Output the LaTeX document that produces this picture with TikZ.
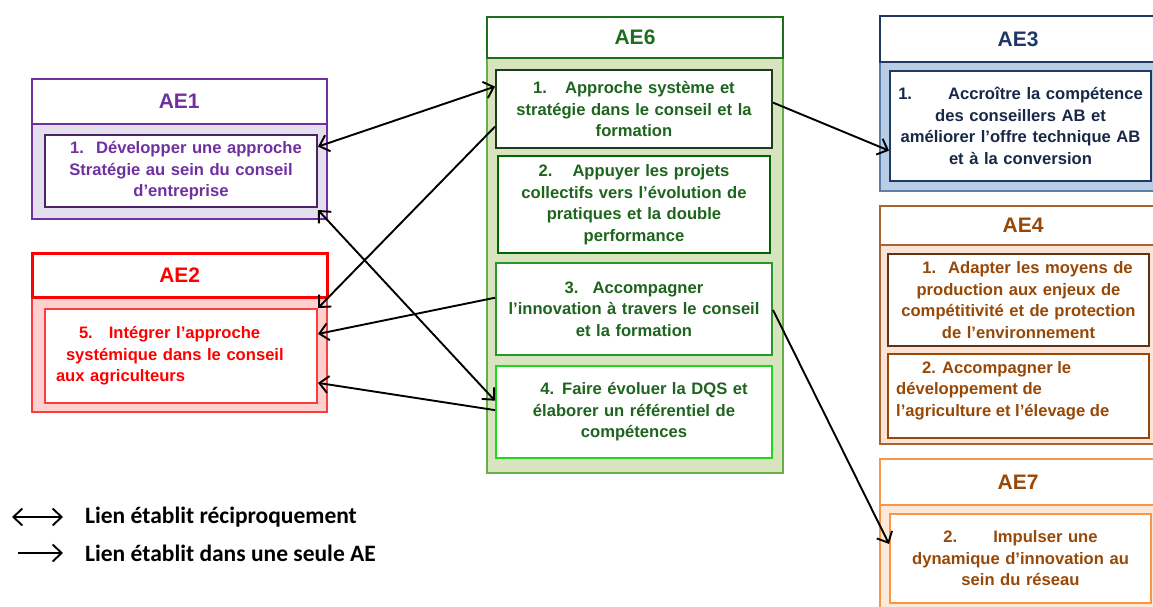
\documentclass[tikz,border=0pt]{standalone}
\usepackage{fontspec}
\setmainfont{Liberation Sans}
\newfontfamily\legendfont{Carlito}
\usetikzlibrary{arrows.meta,calc}
\definecolor{purp}{RGB}{112,48,160}
\definecolor{purpdark}{RGB}{75,35,102}
\definecolor{lav}{RGB}{228,223,236}
\definecolor{pinkf}{RGB}{255,208,208}
\definecolor{redl}{RGB}{255,60,60}
\definecolor{gtext}{RGB}{30,100,30}
\definecolor{ghdr}{RGB}{30,110,30}
\definecolor{gfill}{RGB}{215,228,189}
\definecolor{gborder}{RGB}{100,175,70}
\definecolor{gb1}{RGB}{30,58,30}
\definecolor{gb2}{RGB}{0,100,0}
\definecolor{gb3}{RGB}{40,150,40}
\definecolor{gb4}{RGB}{30,215,30}
\definecolor{navy}{RGB}{31,56,100}
\definecolor{navytext}{RGB}{25,40,70}
\definecolor{bfill}{RGB}{185,205,229}
\definecolor{bborder}{RGB}{90,125,170}
\definecolor{brown}{RGB}{151,72,6}
\definecolor{brownhdr}{RGB}{170,100,50}
\definecolor{browndark}{RGB}{92,51,23}
\definecolor{peach}{RGB}{251,228,213}
\definecolor{orng}{RGB}{247,150,70}
\definecolor{ofill}{RGB}{253,233,217}
\definecolor{otext}{RGB}{152,72,7}
\tikzset{
  boxfont/.style={font=\fontsize{16.6}{21.5}\selectfont\bfseries},
  ibox/.style={draw, line width=2pt, fill=white, anchor=north west, inner sep=0pt, align=center, boxfont},
  hdr/.style={draw, line width=2pt, fill=white, anchor=north west, inner sep=0pt, font=\fontsize{21}{24}\selectfont\bfseries},
  bodyb/.style={draw, line width=1.5pt, anchor=north west, inner sep=0pt},
  link/.style={line width=1.9pt, -{Straight Barb[length=9pt,width=17pt]}},
  linkk/.style={line width=1.9pt, {Straight Barb[length=9pt,width=17pt]}-{Straight Barb[length=9pt,width=17pt]}},
}
\begin{document}
\begin{tikzpicture}[x=1pt,y=-1pt]
\clip (0,0) rectangle (1153,606);
\fill[white] (0,0) rectangle (1153,606);

% ---------- AE1
\node[bodyb, draw=purp, fill=lav, minimum width=295pt, minimum height=95pt] (ae1b) at (31,123) {};
\node[hdr, draw=purp, text=purp, line width=1.5pt, minimum width=295pt, minimum height=45pt] (ae1h) at (31,78) {AE1};
\node[ibox, draw=purpdark, text=purp, minimum width=272pt, minimum height=72pt, text width=266pt] (ae1i) at (44,134)
  {\hspace*{10pt}1.\hspace{12pt}Développer une approche\\Stratégie au sein du conseil\\d’entreprise};

% ---------- AE2
\node[bodyb, draw=redl, fill=pinkf, minimum width=295pt, minimum height=115pt] (ae2b) at (31,296) {};
\node[hdr, draw=red, text=red, line width=2.5pt, minimum width=295pt, minimum height=44pt] (ae2h) at (31,252) {AE2};
\node[ibox, draw=redl, text=red, align=left, minimum width=272pt, minimum height=94pt, text width=250pt] (ae2i) at (44,308)
  {\hspace*{23pt}5.\hspace{16pt}Intégrer l’approche\\\hspace*{10pt}systémique dans le conseil\\aux agriculteurs};

% ---------- AE6
\node[bodyb, draw=gborder, fill=gfill, minimum width=296pt, minimum height=415pt] (ae6b) at (486,57) {};
\node[hdr, draw=ghdr, text=ghdr, minimum width=296pt, minimum height=41pt] (ae6h) at (486,16) {AE6};
\node[ibox, draw=gb1, text=gtext, minimum width=276pt, minimum height=78pt, text width=270pt] (b1) at (495,69)
  {1.\hspace{18pt}Approche système et\\stratégie dans le conseil et la\\formation};
\node[ibox, draw=gb2, text=gtext, minimum width=272pt, minimum height=97pt, text width=266pt] (b2) at (497,155)
  {2.\hspace{20pt}Appuyer les projets\\collectifs vers l’évolution de\\pratiques et la double\\performance};
\node[ibox, draw=gb3, text=gtext, minimum width=276pt, minimum height=92pt, text width=270pt] (b3) at (495,262)
  {3.\hspace{14pt}Accompagner\hspace*{50pt}\\l’innovation à travers le conseil\\et la formation};
\node[ibox, draw=gb4, text=gtext, minimum width=276pt, minimum height=92pt, text width=270pt] (b4) at (495,365)
  {\hspace*{20pt}4.\hspace{8pt}Faire évoluer la DQS et\\élaborer un référentiel de\\compétences};

% ---------- AE3
\node[bodyb, draw=bborder, fill=bfill, minimum width=290pt, minimum height=129pt] (ae3b) at (879,61) {};
\node[hdr, draw=navy, text=navy, minimum width=290pt, minimum height=46pt] (ae3h) at (879,15) {\hspace*{-7pt}AE3\hspace*{7pt}};
\node[ibox, draw=navy, text=navytext, minimum width=261pt, minimum height=110pt, text width=258pt] (ae3i) at (889,70)
  {1.\hspace{36pt}Accroître la compétence\\des conseillers AB et\\améliorer l’offre technique AB\\et à la conversion};

% ---------- AE4
\node[bodyb, draw=brownhdr, fill=peach, minimum width=290pt, minimum height=199pt] (ae4b) at (879,244) {};
\node[hdr, draw=brownhdr, text=brown, minimum width=290pt, minimum height=39pt] (ae4h) at (879,205) {\hspace*{-2pt}AE4\hspace*{2pt}};
\node[ibox, draw=browndark, text=brown, minimum width=261pt, minimum height=92pt, text width=258pt] (ae4i) at (887,253)
  {\hspace*{18pt}1.\hspace{12pt}Adapter les moyens de\\production aux enjeux de\\compétitivité et de protection\\de l’environnement};
\node[ibox, draw=brown, minimum width=261pt, minimum height=84pt] (ae4j) at (887,353) {};
\node[anchor=north west, inner sep=0pt, align=left, boxfont, text=brown] (ae4jt) at ($(ae4j.north west)+(9,8)$)
  {\hspace*{26pt}2.\hspace{6pt}Accompagner le\\développement de\\l’agriculture et l’élevage de};

% ---------- AE7
\node[bodyb, draw=orng, fill=ofill, minimum width=290pt, minimum height=110pt] (ae7b) at (879,504) {};
\node[hdr, draw=orng, text=otext, minimum width=290pt, minimum height=46pt] (ae7h) at (879,458) {\hspace*{-7pt}AE7\hspace*{7pt}};
\node[ibox, draw=orng, text=otext, minimum width=261pt, minimum height=89pt, text width=258pt] (ae7i) at (889,513)
  {2.\hspace{36pt}Impulser une\\dynamique d’innovation au\\sein du réseau};

% ---------- connectors
\draw[linkk] ($(ae1i.north east)!0.17!(ae1i.south east)$) -- ($(b1.north west)!0.22!(b1.south west)$);
\draw[link] ($(b1.north west)!0.72!(b1.south west)$) -- (ae2i.north east);
\draw[linkk] ([yshift=-2pt]ae1i.south east) -- ($(b4.north west)!0.38!(b4.south west)$);
\draw[link] ($(b3.north west)!0.38!(b3.south west)$) -- ($(ae2i.north east)!0.27!(ae2i.south east)$);
\draw[link] ($(b4.north west)!0.48!(b4.south west)$) -- ($(ae2i.north east)!0.78!(ae2i.south east)$);
\draw[link] ($(b1.north east)!0.42!(b1.south east)$) -- ($(ae3i.north west)!0.72!(ae3i.south west)$);
\draw[link] ($(b3.north east)!0.51!(b3.south east)$) -- ($(ae7i.north west)!0.34!(ae7i.south west)$);

% ---------- legend
\coordinate (l1a) at (12,517);
\coordinate (l1b) at (63,517);
\coordinate (l2a) at (18,553);
\coordinate (l2b) at (63,553);
\draw[linkk] (l1a) -- (l1b);
\draw[link] (l2a) -- (l2b);
\node[anchor=west, inner sep=0pt, font=\legendfont\fontsize{23.5}{26}\selectfont\bfseries] (lt1) at (85,517) {Lien établit réciproquement};
\node[anchor=west, inner sep=0pt, font=\legendfont\fontsize{23.5}{26}\selectfont\bfseries] (lt2) at (85,553) {Lien établit dans une seule AE};
\end{tikzpicture}
\end{document}
